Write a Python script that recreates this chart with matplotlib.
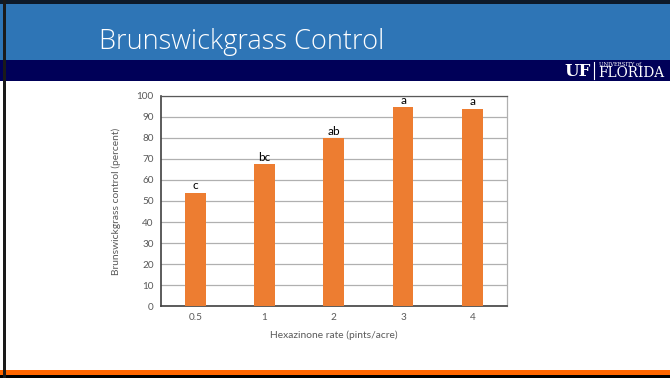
import matplotlib
matplotlib.use("Agg")
import matplotlib.pyplot as plt
from matplotlib.patches import Rectangle
from matplotlib.lines import Line2D

categories = ["0.5", "1", "2", "3", "4"]
control = [54.0, 67.5, 80.0, 94.5, 93.8]
letters = ["c", "bc", "ab", "a", "a"]
yticks = [0, 10, 20, 30, 40, 50, 60, 70, 80, 90, 100]

W, H = 670, 378
fig = plt.figure(figsize=(W / 100, H / 100), dpi=100)
fig.patch.set_facecolor("white")

def px_rect(x0, y0, x1, y1, color):
    fig.patches.append(Rectangle((x0 / W, 1 - y1 / H), (x1 - x0) / W, (y1 - y0) / H,
                                 transform=fig.transFigure, color=color, lw=0, zorder=0))

# slide decorations
px_rect(0, 0, W, 4, "#0d1a2a")
px_rect(0, 4, W, 60, "#2e75b6")
px_rect(0, 60, W, 81, "#000058")
px_rect(0, 370, W, 375, "#ff6600")
px_rect(0, 375, W, H, "#000000")
px_rect(3, 0, 6, H, "#1a1a1a")

fig.text(99 / W, 1 - 42 / H, "Brunswickgrass Control", color="white", fontsize=19.5,
         family="Open Sans", weight="light", va="center", ha="left")

# UF logo
fig.text(564 / W, 1 - 71 / H, "UF", color="white", fontsize=12, family="DejaVu Serif",
         weight="bold", va="center", ha="left")
fig.lines.append(Line2D([594 / W, 594 / W], [1 - 62 / H, 1 - 79 / H], transform=fig.transFigure,
                        color="white", lw=0.8))
fig.text(599 / W, 1 - 64.5 / H, "UNIVERSITY of", color="white", fontsize=3.8,
         family="DejaVu Serif", va="center", ha="left")
fig.text(598 / W, 1 - 73 / H, "FLORIDA", color="white", fontsize=9.8,
         family="DejaVu Serif", va="center", ha="left")

ax = fig.add_axes([160.7 / W, 1 - 306.3 / H, (507 - 160.7) / W, (306.3 - 95.7) / H])
x = list(range(len(categories)))
ax.bar(x, control, width=0.30, color="#ed7d31", zorder=3)
for xi, v, lab in zip(x, control, letters):
    ax.text(xi, v + 0.6, lab, ha="center", va="bottom", fontsize=8.5, family="Lato",
            color="black", zorder=4)

ax.set_xlim(-0.5, len(categories) - 0.5)
ax.set_ylim(0, 100)
ax.set_yticks(yticks)
ax.set_xticks(x)
ax.set_xticklabels(categories)
ax.yaxis.grid(True, color="#b0b0b0", lw=0.9, zorder=0)
ax.set_axisbelow(True)
for s in ["left", "bottom"]:
    ax.spines[s].set_color("#404040")
    ax.spines[s].set_linewidth(1.2)
ax.spines["top"].set_color("#595959")
ax.spines["top"].set_linewidth(0.9)
ax.spines["right"].set_color("#b0b0b0")
ax.spines["right"].set_linewidth(0.9)
ax.tick_params(length=0, labelsize=7.2, labelcolor="#595959", pad=5)
for t in ax.get_xticklabels() + ax.get_yticklabels():
    t.set_family("Lato")
ax.set_xlabel("Hexazinone rate (pints/acre)", fontsize=7.4, color="#595959", family="Lato", labelpad=6)
ax.set_ylabel("Brunswickgrass control (percent)", fontsize=7.4, color="#595959", family="Lato", labelpad=11)

fig.savefig("out.png", dpi=100, facecolor=fig.get_facecolor())
